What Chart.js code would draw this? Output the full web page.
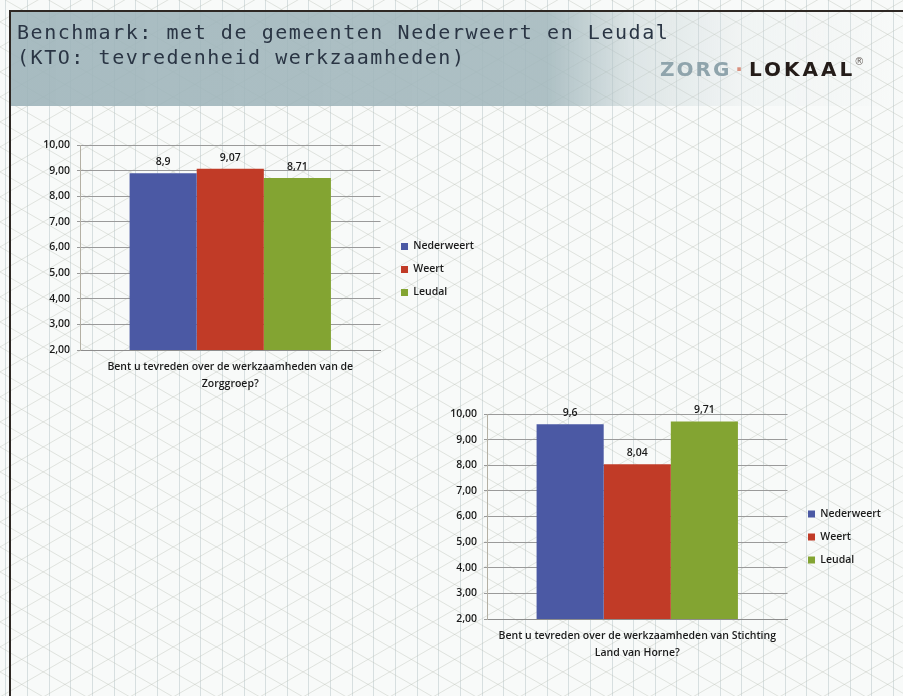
<!DOCTYPE html>
<html>
<head>
<meta charset="utf-8">
<script src="https://cdn.jsdelivr.net/npm/chart.js@4"></script>
<style>
    body { margin: 0; width: 903px; height: 696px; overflow: hidden; background: #f8faf9; position: relative; }
    #bg { position: absolute; left: 0; top: 0; }
    .frame { position: absolute; left: 9px; top: 10px; right: 0; bottom: 0; border-left: 2px solid #2e2824; border-top: 2px solid #2e2824; }
    .header { position: absolute; left: 11px; top: 12px; width: 892px; height: 94px;
        background: linear-gradient(90deg, rgba(158,180,186,.9) 0%, rgba(162,183,188,.88) 60%, rgba(190,205,208,.45) 70%, rgba(220,228,230,.25) 82%, rgba(255,255,255,0) 100%); }
    .title { position: absolute; left: 17px; top: 20px; font: 20px/25px "DejaVu Sans Mono", monospace; letter-spacing: 1.55px; color: #2a3544; white-space: pre; }
    .logo { position: absolute; left: 660px; top: 53px; font: bold 20px/24px "DejaVu Sans", sans-serif; white-space: pre; }
    .logo .z { color: #8fa4ac; letter-spacing: 2px; }
    .logo .d { color: #d9907e; margin: 0 6px 0 4px; }
    .logo .l { color: #241c19; letter-spacing: 3px; }
    .logo sup { font-size: 10px; color: #6b6460; font-weight: normal; position: relative; top: -3px; left: -1px; }
    .box { position: absolute; }
</style>
</head>
<body>
<canvas id="bg" width="903" height="696"></canvas>
<div class="frame"></div>
<div class="header"></div>
<div class="title">Benchmark: met de gemeenten Nederweert en Leudal
(KTO: tevredenheid werkzaamheden)</div>
<div class="logo"><span class="z">ZORG</span><span class="d">·</span><span class="l">LOKAAL</span><sup>®</sup></div>
<div class="box" id="box1"><canvas id="chart1"></canvas></div>
<div class="box" id="box2"><canvas id="chart2"></canvas></div>

<script>
// data
const series = ['Nederweert', 'Weert', 'Leudal'];
const colors = ['#4b59a4', '#c13b27', '#83a432'];

const zorggroepVraag   = ['Bent u tevreden over de werkzaamheden van de', 'Zorggroep?'];
const zorggroepScores  = [8.9, 9.07, 8.71];

const stichtingVraag   = ['Bent u tevreden over de werkzaamheden van Stichting', 'Land van Horne?'];
const stichtingScores  = [9.6, 8.04, 9.71];

const yMin  = 2;
const yMax  = 10;
const yStep = 1;

// achtergrond: isometrisch raster
const drawBackground = () => {
    const g = document.getElementById('bg').getContext('2d');
    const h = 21.65;
    const t = Math.tan(Math.PI / 6);
    const x0 = 5.35;
    g.lineWidth = 1;
    g.strokeStyle = 'rgba(175,190,192,0.45)';
    for (let x = x0; x < 903; x += h) {
        g.beginPath(); g.moveTo(Math.round(x) + 0.5, 0); g.lineTo(Math.round(x) + 0.5, 696); g.stroke();
    }
    g.strokeStyle = 'rgba(185,188,178,0.38)';
    const c0 = -x0 * t;
    for (let c = c0 - 40 * 25; c < 696 + 903 * t; c += 25) {
        g.beginPath(); g.moveTo(0, c); g.lineTo(903, c + 903 * t); g.stroke();
        g.beginPath(); g.moveTo(0, c); g.lineTo(903, c - 903 * t); g.stroke();
    }
};
drawBackground();

Chart.defaults.font.family = '"Open Sans", sans-serif';
Chart.defaults.color = '#1a1a1a';

const comma = (v, d) => (d === undefined ? String(v) : v.toFixed(d)).replace('.', ',');

const valueLabels = {
    id: 'valueLabels',
    afterDatasetsDraw(chart) {
        const ctx = chart.ctx;
        ctx.save();
        ctx.font = '600 10.5px "Open Sans"';
        ctx.fillStyle = '#1a1a1a';
        ctx.textAlign = 'center';
        ctx.textBaseline = 'middle';
        chart.data.datasets.forEach((ds, i) => {
            chart.getDatasetMeta(i).data.forEach((bar, j) => {
                ctx.fillText(comma(ds.data[j]), bar.x, bar.y - 11);
            });
        });
        ctx.restore();
    }
};

const legendShift = {
    id: 'legendShift',
    afterLayout(chart, args, opts) {
        const lg = chart.legend;
        lg.left += opts.dx; lg.right += opts.dx;
        lg.top += opts.dy; lg.bottom += opts.dy;
    }
};

const legendFont = { size: 10.5, weight: '600' };

const legendWidth = () => {
    const c = document.createElement('canvas').getContext('2d');
    c.font = '600 10.5px "Open Sans"';
    const w = Math.max(...series.map(s => c.measureText(s).width));
    return 12.5 + 7 + 10.5 / 2 + w + 10;
};

const createChart = (id, boxId, left, top, vraag, scores, dy) => {
    const box = document.getElementById(boxId);
    const width = Math.ceil(60 + 300 + legendWidth() + 10);
    box.style.left = left + 'px';
    box.style.top = top + 'px';
    box.style.width = width + 'px';
    box.style.height = '279px';

    new Chart(document.getElementById(id), {
        type: 'bar',
        data: {
            labels: [vraag],
            datasets: series.map((name, i) => ({
                label: name,
                data: [scores[i]],
                backgroundColor: colors[i],
                borderWidth: 0,
                categoryPercentage: 0.67,
                barPercentage: 1.0
            }))
        },
        options: {
            responsive: true,
            maintainAspectRatio: false,
            animation: false,
            layout: { padding: { top: 20, bottom: 2, right: 10, left: 0 } },
            scales: {
                x: {
                    grid: { display: false, drawTicks: false },
                    border: { color: '#8d8d8d' },
                    ticks: { padding: 9, maxRotation: 0, minRotation: 0,
                             font: { size: 10.5, weight: '600', lineHeight: '17px' }, color: '#1a1a1a' }
                },
                y: {
                    min: yMin,
                    max: yMax,
                    afterFit: (scale) => { scale.width = 60; },
                    grid: { color: '#9a9a9a', tickLength: 3 },
                    border: { color: '#b4b0a4' },
                    ticks: { stepSize: yStep, padding: 7, callback: (v) => comma(v, 2),
                             font: { size: 10.5, weight: '600' }, color: '#1a1a1a' }
                }
            },
            plugins: {
                legend: {
                    position: 'right',
                    labels: { boxWidth: 7, boxHeight: 7, padding: 12.5, font: legendFont, color: '#1a1a1a' }
                },
                legendShift: { dx: 8, dy: dy },
                tooltip: { enabled: false }
            }
        },
        plugins: [valueLabels, legendShift]
    });
};

createChart('chart1', 'box1', 20, 125, zorggroepVraag, zorggroepScores, -4);
createChart('chart2', 'box2', 427, 394, stichtingVraag, stichtingScores, -5.5);
</script>
</body>
</html>
